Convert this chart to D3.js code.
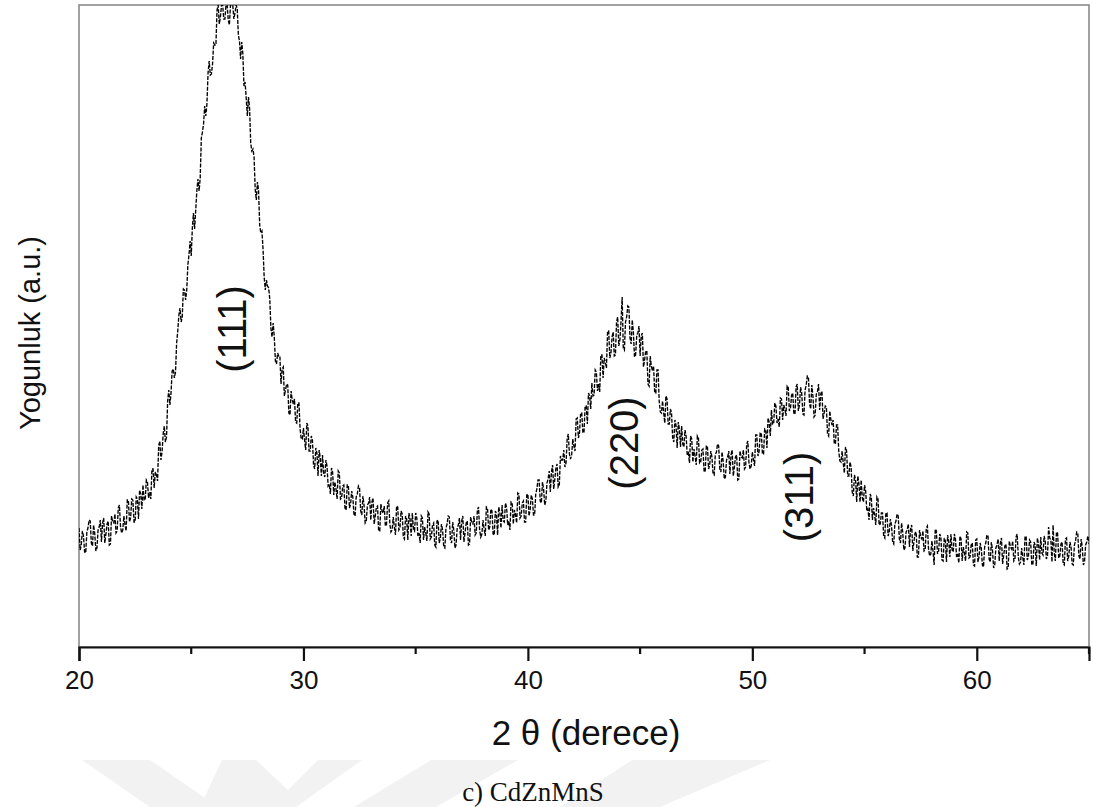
<!DOCTYPE html>
<html>
<head>
<meta charset="utf-8">
<script src="https://cdn.jsdelivr.net/npm/d3@7"></script>
<style>
  html, body { margin: 0; padding: 0; background: #fff; }
  svg { display: block; }
</style>
</head>
<body>
<svg id="chart" width="1093" height="807"></svg>
<script>
// ---- data ----
const angleStart = 20;      // 2θ of first sample (degrees)
const angleStep = 0.05;     // sampling step (degrees)
const intensity = [
  119,97,102,116,111,95,94,115,119,127,126,104,101,122,114,96,99,117,120,127,
  105,124,129,104,113,123,126,102,103,131,125,124,133,114,116,139,142,120,114,117,
  131,122,116,147,147,125,129,148,147,125,125,150,148,128,157,153,138,162,147,147,
  167,165,149,155,148,178,178,159,175,172,166,201,206,187,195,213,221,205,210,246,
  257,242,254,276,278,269,275,304,316,332,339,325,330,358,357,347,357,382,392,406,
  391,419,434,418,437,456,468,456,469,509,515,523,541,531,543,574,586,572,573,583,
  604,602,602,637,642,623,630,642,642,628,628,642,642,627,622,642,642,642,628,634,
  642,638,612,606,588,605,593,561,565,549,531,550,539,504,496,498,490,458,447,465,
  457,422,414,416,398,370,357,367,361,359,348,319,310,324,310,286,283,294,291,291,
  263,278,280,251,257,263,262,234,232,256,247,243,248,225,224,244,244,218,208,208,
  219,207,197,224,221,196,196,211,207,182,178,199,194,171,197,189,171,192,174,170,
  187,181,161,163,153,179,175,152,165,158,148,176,174,148,149,161,162,139,137,162,
  162,139,143,156,150,133,131,150,153,161,159,136,132,151,142,124,126,142,144,150,
  127,145,149,123,131,140,141,116,116,143,136,134,141,121,122,144,146,123,115,117,
  130,120,112,141,140,117,119,136,133,110,108,131,128,107,134,128,111,134,118,116,
  134,129,111,114,104,131,129,107,120,114,106,135,133,108,110,122,124,102,100,126,
  127,104,109,123,117,100,99,119,123,131,130,107,104,125,117,99,102,119,122,129,
  107,126,131,105,114,124,126,102,103,130,124,123,131,112,114,137,140,117,110,113,
  127,118,111,140,139,117,120,138,136,113,112,136,133,112,140,135,119,142,126,125,
  144,140,122,126,117,145,144,123,137,132,124,154,153,129,131,144,146,125,125,152,
  153,131,137,152,148,132,132,153,158,167,167,146,144,165,158,142,146,164,168,176,
  155,175,182,158,168,179,183,160,162,191,187,187,197,180,184,208,213,193,188,192,
  208,201,196,228,229,209,214,234,234,214,215,241,241,223,254,251,238,264,251,252,
  277,275,256,263,255,292,292,269,289,285,279,316,316,289,294,310,315,291,292,325,
  330,301,307,326,350,299,297,325,330,341,340,309,303,327,315,290,292,312,314,321,
  291,311,314,280,287,296,296,263,261,291,281,276,281,254,254,277,277,246,235,234,
  246,234,224,251,248,223,223,238,234,209,205,227,222,199,225,218,200,221,203,200,
  217,211,192,194,184,211,208,185,198,191,182,211,209,184,185,197,198,176,175,201,
  201,178,182,196,190,173,172,192,195,203,201,178,175,195,186,168,170,187,190,196,
  173,192,197,171,180,190,192,167,168,196,190,189,197,178,180,203,206,184,178,181,
  195,187,181,212,212,191,195,214,214,193,193,218,217,199,229,225,211,237,223,223,
  244,241,224,228,220,249,248,227,242,238,231,261,260,236,239,252,254,233,233,260,
  263,236,242,260,254,233,232,257,262,271,270,243,238,262,251,230,232,253,255,263,
  237,253,256,228,234,241,240,213,211,236,227,222,227,204,203,222,222,196,186,185,
  196,184,174,200,196,171,171,185,180,155,151,172,167,145,171,163,145,167,149,145,
  162,156,136,138,127,153,150,127,139,132,122,150,148,122,123,134,134,111,109,134,
  134,111,115,128,122,105,103,123,126,133,131,108,104,124,115,97,99,115,117,123,
  100,118,122,96,105,114,115,90,90,117,110,108,116,96,97,119,121,98,91,93,
  106,96,82,118,116,93,96,113,110,87,86,109,106,85,112,106,90,113,97,95,
  113,108,90,93,84,111,108,86,100,94,86,115,114,89,90,102,104,82,81,107,
  108,85,90,104,99,82,80,100,104,112,111,88,85,105,97,79,82,99,102,108,
  86,104,109,83,92,101,103,78,79,106,100,98,106,86,88,110,113,90,83,85,
  99,89,82,111,110,87,90,107,105,83,82,105,102,81,109,103,87,110,94,92,
  111,106,88,91,120,109,107,85,122,94,86,115,114,89,91,103,105,83,82,108,
  109,86,91,105,100,83,82,102,106,115,114,91,88,108,100,82,85,102,105,111,
  103
];
const xTicks = [20, 30, 40, 50, 60];
const xMinorTicks = [25, 35, 45, 55, 65];
const xDomain = [20, 65];
const yDomain = [0, 642];
const peakLabels = ["(111)", "(220)", "(311)"];
const peakAngles = [26.8, 44.3, 52.1];
const peakLabelHeights = [318, 204, 150];
const xTitle = "2 \u03b8 (derece)";
const yTitle = "Yogunluk (a.u.)";
const caption = "c) CdZnMnS";

// ---- layout ----
const svg = d3.select("#chart");
const L = 79, R = 1089, T = 5, B = 647;
const x = d3.scaleLinear().domain(xDomain).range([L, R]);
const y = d3.scaleLinear().domain(yDomain).range([B, T]);

// watermark (faint logo shapes at the bottom)
const wm = svg.append("g").attr("fill", "#f2f2f2");
const wmShapes = [
  [[82,760],[150,760],[218,807],[150,807]],
  [[222,760],[256,760],[288,790],[318,760],[362,760],[296,807],[200,807]],
  [[431,760],[518,760],[436,807],[354,807]],
  [[632,760],[770,760],[660,807],[560,807]]
];
wmShapes.forEach(p => wm.append("polygon").attr("points", p.map(d => d.join(",")).join(" ")));

// frame
svg.append("rect").attr("x", L).attr("y", T).attr("width", R - L).attr("height", B - T)
  .attr("fill", "none").attr("stroke", "#8a8a8a").attr("stroke-width", 1.6);

// data line
svg.append("clipPath").attr("id", "clip").append("rect")
  .attr("x", L).attr("y", T).attr("width", R - L).attr("height", B - T);
const pts = intensity.map((v, i) => [angleStart + i * angleStep, v]);
const line = d3.line().x(d => x(d[0])).y(d => y(d[1]));
svg.append("path").datum(pts).attr("clip-path", "url(#clip)")
  .attr("d", line).attr("fill", "none").attr("stroke", "#000")
  .attr("stroke-width", 1.35).attr("stroke-dasharray", "4,1.4");

// x axis
const gx = svg.append("g").attr("transform", `translate(0,${B})`);
gx.call(d3.axisBottom(x).tickValues(xTicks).tickSize(14).tickPadding(10).tickFormat(d3.format("d")));
gx.select(".domain").attr("stroke", "#111").attr("stroke-width", 2.2);
gx.selectAll(".tick line").attr("stroke", "#111").attr("stroke-width", 2.2);
gx.selectAll(".tick text").attr("font-family", "Liberation Sans, Arial, sans-serif")
  .attr("font-size", 26).attr("fill", "#111");
gx.selectAll(".minor").data(xMinorTicks).enter().append("line")
  .attr("x1", d => x(d)).attr("x2", d => x(d)).attr("y1", 0).attr("y2", 7)
  .attr("stroke", "#111").attr("stroke-width", 2.2);

// titles
svg.append("text").attr("x", 586).attr("y", 745).attr("text-anchor", "middle")
  .attr("font-family", "Liberation Sans, Arial, sans-serif").attr("font-size", 35).attr("fill", "#111")
  .text(xTitle);
svg.append("text").attr("transform", "translate(40,333) rotate(-90)").attr("text-anchor", "middle")
  .attr("font-family", "Liberation Sans, Arial, sans-serif").attr("font-size", 29).attr("fill", "#111")
  .text(yTitle);
svg.append("text").attr("x", 533).attr("y", 801).attr("text-anchor", "middle")
  .attr("font-family", "Liberation Serif, Times New Roman, serif").attr("font-size", 27).attr("fill", "#111")
  .text(caption);

// peak labels
peakLabels.forEach((t, i) => {
  svg.append("text")
    .attr("transform", `translate(${x(peakAngles[i])},${y(peakLabelHeights[i])}) rotate(-90)`)
    .attr("text-anchor", "middle").attr("dominant-baseline", "central")
    .attr("font-family", "Liberation Sans, Arial, sans-serif").attr("font-size", 40).attr("fill", "#111")
    .text(t);
});
</script>
</body>
</html>
